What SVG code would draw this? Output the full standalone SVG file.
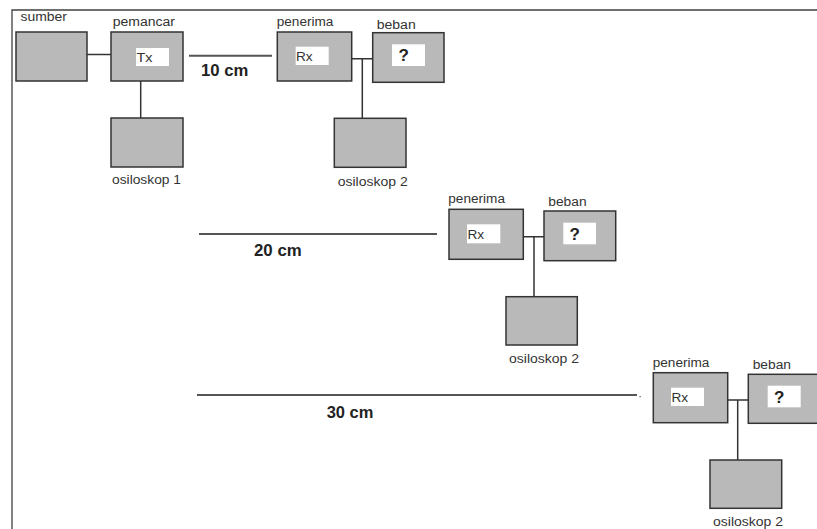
<svg xmlns="http://www.w3.org/2000/svg" width="817" height="529" viewBox="0 0 817 529">
<style>
.box{fill:#b9b9b9;stroke:#333;stroke-width:1.5}
.win{fill:#fff;stroke:none}
.ln{stroke:#333;stroke-width:1.5;fill:none}
.dist{stroke:#555;stroke-width:2;fill:none}
.lbl{font-family:"Liberation Sans",Arial,sans-serif;font-size:12px;fill:#333}
.in{font-family:"Liberation Sans",Arial,sans-serif;font-size:13px;fill:#333}
.q{font-family:"Liberation Sans",Arial,sans-serif;font-size:17px;font-weight:bold;fill:#222}
.cm{font-family:"Liberation Sans",Arial,sans-serif;font-size:16px;font-weight:bold;fill:#222}
</style>
<rect width="817" height="529" fill="#fff"/>
<path d="M12 529 V10 H817" fill="none" stroke="#404040" stroke-width="1.3"/>

<g id="connectors">
<path class="ln" d="M87 54.5 H111"/>
<path class="ln" d="M140.7 81 V118"/>
<path class="dist" d="M189 55.7 H272"/>
<path class="ln" d="M351.7 58.7 H372.7 M362.3 58.7 V118.3"/>
<path class="dist" d="M199 234 H437"/>
<path class="ln" d="M523.3 236.7 H544 M534 236.7 V296.7"/>
<path class="dist" d="M197 395 H637"/>
<rect x="639.5" y="396" width="1.2" height="1.2" fill="#555"/>
<path class="ln" d="M727.7 400 H748.3 M737.7 400 V460"/>
</g>

<g id="sumber">
<rect class="box" x="16" y="32" width="71" height="49"/>
<text class="lbl" x="20.5" y="21.3" textLength="46.5" lengthAdjust="spacingAndGlyphs">sumber</text>
</g>
<g id="pemancar">
<rect class="box" x="111" y="32" width="72" height="49"/>
<rect class="win" x="136" y="48" width="33" height="18"/>
<text class="in" x="136.5" y="61.7" textLength="16" lengthAdjust="spacingAndGlyphs">Tx</text>
<text class="lbl" x="112.7" y="26.3" textLength="62.3" lengthAdjust="spacingAndGlyphs">pemancar</text>
</g>
<g id="osiloskop1">
<rect class="box" x="111" y="118" width="72" height="49"/>
<text class="lbl" x="112" y="183.5" textLength="69" lengthAdjust="spacingAndGlyphs">osiloskop 1</text>
</g>
<text class="cm" x="201" y="76.3" textLength="47.3" lengthAdjust="spacingAndGlyphs">10 cm</text>

<g id="penerima1">
<rect class="box" x="277.3" y="32" width="74.4" height="49"/>
<rect class="win" x="295.7" y="46.7" width="33" height="18.3"/>
<text class="in" x="296" y="60.9" textLength="16.7" lengthAdjust="spacingAndGlyphs">Rx</text>
<text class="lbl" x="276.7" y="25.8" textLength="56.7" lengthAdjust="spacingAndGlyphs">penerima</text>
</g>
<g id="beban1">
<rect class="box" x="372.7" y="32.7" width="71.3" height="49.6"/>
<rect class="win" x="392" y="44.3" width="33" height="21.7"/>
<text class="q" x="398.5" y="60.8">?</text>
<text class="lbl" x="376.7" y="28.5" textLength="39" lengthAdjust="spacingAndGlyphs">beban</text>
</g>
<g id="osiloskop2a">
<rect class="box" x="334.3" y="118.3" width="71.7" height="49"/>
<text class="lbl" x="337.7" y="185.7" textLength="70" lengthAdjust="spacingAndGlyphs">osiloskop 2</text>
</g>

<text class="cm" x="254" y="256" textLength="47.7" lengthAdjust="spacingAndGlyphs">20 cm</text>
<g id="penerima2">
<rect class="box" x="449" y="209.3" width="74.3" height="50"/>
<rect class="win" x="467" y="224.3" width="33.3" height="19"/>
<text class="in" x="467.5" y="238.7" textLength="16.7" lengthAdjust="spacingAndGlyphs">Rx</text>
<text class="lbl" x="448.3" y="203.3" textLength="56.7" lengthAdjust="spacingAndGlyphs">penerima</text>
</g>
<g id="beban2">
<rect class="box" x="544" y="211" width="71.7" height="49.7"/>
<rect class="win" x="563.3" y="222.7" width="32.7" height="21.6"/>
<text class="q" x="569.5" y="239.5">?</text>
<text class="lbl" x="548.3" y="206" textLength="38.3" lengthAdjust="spacingAndGlyphs">beban</text>
</g>
<g id="osiloskop2b">
<rect class="box" x="506" y="296.7" width="71.3" height="48.3"/>
<text class="lbl" x="509" y="363" textLength="70" lengthAdjust="spacingAndGlyphs">osiloskop 2</text>
</g>

<text class="cm" x="326.7" y="417.6" textLength="46.7" lengthAdjust="spacingAndGlyphs">30 cm</text>
<g id="penerima3">
<rect class="box" x="653.3" y="372.7" width="74.4" height="50"/>
<rect class="win" x="671" y="387.7" width="33" height="18.3"/>
<text class="in" x="671.5" y="402.2" textLength="16.7" lengthAdjust="spacingAndGlyphs">Rx</text>
<text class="lbl" x="652.7" y="366.7" textLength="56.7" lengthAdjust="spacingAndGlyphs">penerima</text>
</g>
<g id="beban3">
<rect class="box" x="748.3" y="374.3" width="72" height="49"/>
<rect class="win" x="767.7" y="385.7" width="33" height="21.6"/>
<text class="q" x="774" y="402.5">?</text>
<text class="lbl" x="752.7" y="369.3" textLength="38.3" lengthAdjust="spacingAndGlyphs">beban</text>
</g>
<g id="osiloskop2c">
<rect class="box" x="710" y="460" width="71.7" height="48.3"/>
<text class="lbl" x="713" y="526" textLength="70" lengthAdjust="spacingAndGlyphs">osiloskop 2</text>
</g>
</svg>
